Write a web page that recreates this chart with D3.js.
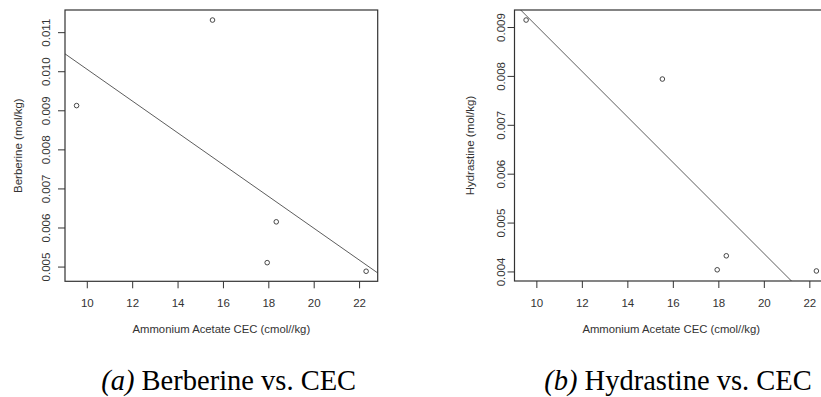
<!DOCTYPE html>
<html><head><meta charset="utf-8">
<script src="https://cdn.jsdelivr.net/npm/d3@7"></script>
<style>
html,body{margin:0;padding:0;background:#fff;}
svg{display:block;}
</style></head>
<body>
<svg id="c" width="821" height="397"></svg>
<script>
// Data
const cec = [9.55, 15.54, 18.35, 17.95, 22.31];
const berberine = [0.00912, 0.01131, 0.006145, 0.00510, 0.00488];
const hydrastine = [0.009143, 0.007936, 0.00432, 0.004034, 0.00401];
const xTicks = [10, 12, 14, 16, 18, 20, 22];
const yTicksA = [0.005, 0.006, 0.007, 0.008, 0.009, 0.010, 0.011];
const yTicksB = [0.004, 0.005, 0.006, 0.007, 0.008, 0.009];
const xLabel = "Ammonium Acetate CEC (cmol//kg)";

const svg = d3.select("#c");
const ink = "#333";

function padExt(v){ const e = d3.extent(v); const p = (e[1]-e[0])*0.04; return [e[0]-p, e[1]+p]; }
function fit(xs, ys){
  const mx = d3.mean(xs), my = d3.mean(ys);
  let sxy = 0, sxx = 0;
  xs.forEach((x,i)=>{ sxy += (x-mx)*(ys[i]-my); sxx += (x-mx)*(x-mx); });
  const b = sxy/sxx; return {a: my - b*mx, b};
}

function panel(cfg){
  const {id, left, right, top, bottom, ys, yTicks, yTitle, tickLabX, titleX, capX, capLetter, capText} = cfg;
  const x = d3.scaleLinear().domain(padExt(cec)).range([left, right]);
  const y = d3.scaleLinear().domain(padExt(ys)).range([bottom, top]);
  const g = svg.append("g");

  g.append("clipPath").attr("id", "clip"+id).append("rect")
    .attr("x", left).attr("y", top).attr("width", right-left).attr("height", bottom-top);

  // regression line
  const f = fit(cec, ys);
  const xd = x.domain();
  g.append("line").attr("clip-path", `url(#clip${id})`)
    .attr("x1", x(xd[0])).attr("y1", y(f.a + f.b*xd[0]))
    .attr("x2", x(xd[1])).attr("y2", y(f.a + f.b*xd[1]))
    .attr("stroke", ink).attr("stroke-width", 0.8);

  // points
  g.selectAll("circle.p").data(cec.map((c,i)=>[c, ys[i]])).join("circle")
    .attr("cx", d=>x(d[0])).attr("cy", d=>y(d[1])).attr("r", 2.3)
    .attr("fill", "none").attr("stroke", ink).attr("stroke-width", 0.9);

  // box
  g.append("rect").attr("x", left).attr("y", top).attr("width", right-left).attr("height", bottom-top)
    .attr("fill", "none").attr("stroke", ink).attr("stroke-width", 1.2);

  // x axis
  const xa = g.append("g").attr("transform", `translate(0,${bottom})`)
    .call(d3.axisBottom(x).tickValues(xTicks).tickSize(7).tickPadding(5).tickFormat(d3.format("d")));
  xa.select(".domain").remove();
  xa.selectAll("line").attr("stroke", ink);
  xa.selectAll("text").attr("font-family", "Liberation Sans, Arial, sans-serif").attr("font-size", 11.5)
    .attr("fill", ink).attr("dy", null).attr("y", 25.5);

  // y axis
  const ya = g.append("g").attr("transform", `translate(${left},0)`)
    .call(d3.axisLeft(y).tickValues(yTicks).tickSize(7).tickFormat(d3.format(".3f")));
  ya.select(".domain").remove();
  ya.selectAll("line").attr("stroke", ink);
  ya.selectAll("text").attr("x", null).attr("dy", null)
    .attr("transform", `translate(${tickLabX - left},0) rotate(-90)`)
    .attr("text-anchor", "middle")
    .attr("font-family", "Liberation Sans, Arial, sans-serif").attr("font-size", 11.5).attr("fill", ink);

  // titles
  g.append("text").attr("x", (left + Math.min(right, 828))/2).attr("y", 333)
    .attr("text-anchor", "middle").attr("font-family", "Liberation Sans, Arial, sans-serif")
    .attr("font-size", 11.3).attr("fill", ink).text(xLabel);
  g.append("text").attr("transform", `translate(${titleX},${(top+bottom)/2}) rotate(-90)`)
    .attr("text-anchor", "middle").attr("font-family", "Liberation Sans, Arial, sans-serif")
    .attr("font-size", 11.5).attr("fill", ink).text(yTitle);

  // caption
  const cap = svg.append("text").attr("x", capX).attr("y", 389.5).attr("text-anchor", "middle")
    .attr("font-family", "Liberation Serif, Times New Roman, serif").attr("font-size", 28.5).attr("fill", "#000");
  cap.append("tspan").attr("font-style", "italic").text(capLetter);
  cap.append("tspan").text(capText);
}

panel({id:"a", left:65, right:377.7, top:10, bottom:281.3, ys:berberine, yTicks:yTicksA,
  yTitle:"Berberine (mol/kg)", tickLabX:49.5, titleX:21.5, capX:228.7,
  capLetter:"(a)", capText:" Berberine vs. CEC"});
panel({id:"b", left:514.5, right:828, top:10, bottom:281, ys:hydrastine, yTicks:yTicksB,
  yTitle:"Hydrastine (mol/kg)", tickLabX:505, titleX:474, capX:678,
  capLetter:"(b)", capText:" Hydrastine vs. CEC"});
</script>
</body></html>
